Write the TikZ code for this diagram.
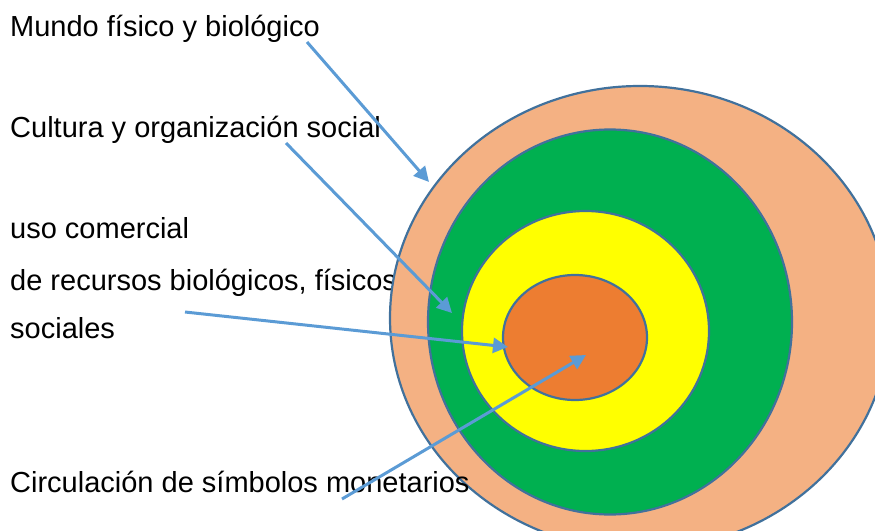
\documentclass[tikz,border=0pt]{standalone}
\usepackage{fontspec}
\setmainfont{Liberation Sans}
\usetikzlibrary{arrows.meta,shapes.geometric}
\definecolor{peach}{HTML}{F4B183}
\definecolor{grn}{HTML}{00B050}
\definecolor{yel}{HTML}{FFFF00}
\definecolor{org}{HTML}{ED7D31}
\definecolor{rim}{HTML}{41719C}
\definecolor{arr}{HTML}{5B9BD5}
\tikzset{
  ring/.style={ellipse, draw=rim, line width=2.2pt, inner sep=0pt, outer sep=0pt},
  lbl/.style={anchor=base west, inner sep=0pt, font=\fontsize{29}{35}\selectfont},
  pointer/.style={draw=arr, line width=3pt, -{Triangle[length=15pt,width=15pt]}}
}
\begin{document}
\begin{tikzpicture}[x=1pt,y=-1pt]
\useasboundingbox (0,0) rectangle (875,530);
\node[lbl] (t3b) at (10,290) {de recursos biológicos, físicos};
\node[ring, fill=peach, minimum width=500pt, minimum height=464pt] (e1) at (640,318) {};
\node[ring, fill=grn, minimum width=364pt, minimum height=385pt] (e2) at (610,322) {};
\node[ring, fill=yel, minimum width=247pt, minimum height=240pt] (e3) at (585.5,331) {};
\node[ring, fill=org, minimum width=144pt, minimum height=125pt] (e4) at (575,337.5) {};
\node[lbl] (t1) at (10,36) {Mundo  físico y biológico};
\node[lbl] (t2) at (10,137) {Cultura y organización social};
\node[lbl] (t3a) at (10,238) {uso comercial};
\node[lbl] (t3c) at (10,338) {sociales};
\node[lbl] (t4) at (10,492) {Circulación de símbolos monetarios};
\coordinate (s1) at (307,42);  \coordinate (p1) at (429,182);
\coordinate (s2) at (286,143); \coordinate (p2) at (452,313);
\coordinate (s3) at (185,312); \coordinate (p3) at (508,347);
\coordinate (s4) at (342,499); \coordinate (p4) at (586,355);
\draw[pointer] (s1) -- (p1);
\draw[pointer] (s2) -- (p2);
\draw[pointer] (s3) -- (p3);
\draw[pointer] (s4) -- (p4);
\end{tikzpicture}
\end{document}
